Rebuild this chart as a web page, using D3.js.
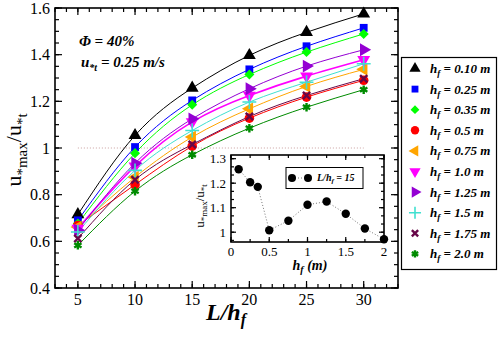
<!DOCTYPE html>
<html>
<head>
<meta charset="utf-8">
<script src="https://cdn.jsdelivr.net/npm/d3@7"></script>
<style>
    body { margin: 0; background: #fff; }
    svg { display: block; font-family: "Liberation Serif", "DejaVu Serif", serif; }
</style>
</head>
<body>
<svg id="drawing_region"></svg>
<script>
// L/h_f values on the x axis
const ratios = [5, 10, 15, 20, 25, 30];
// canopy heights h_f (m)
const heights = [0.10, 0.25, 0.35, 0.5, 0.75, 1.0, 1.25, 1.5, 1.75, 2.0];
const heightLabels = ["0.10", "0.25", "0.35", "0.5", "0.75", "1.0", "1.25", "1.5", "1.75", "2.0"];

// u*max / u*t for each h_f
const s010 = [0.715, 1.054, 1.257, 1.397, 1.496, 1.575];
const s025 = [0.690, 1.004, 1.204, 1.337, 1.436, 1.515];
const s035 = [0.676, 0.978, 1.185, 1.315, 1.411, 1.489];
const s050 = [0.668, 0.843, 1.008, 1.128, 1.218, 1.290];
const s075 = [0.661, 0.875, 1.047, 1.168, 1.264, 1.337];
const s100 = [0.655, 0.922, 1.112, 1.225, 1.308, 1.378];
const s125 = [0.648, 0.935, 1.125, 1.254, 1.351, 1.421];
const s150 = [0.640, 0.904, 1.075, 1.197, 1.282, 1.361];
const s175 = [0.612, 0.864, 1.015, 1.135, 1.225, 1.297];
const s200 = [0.583, 0.815, 0.971, 1.085, 1.175, 1.250];

const allSeries = [s010, s025, s035, s050, s075, s100, s125, s150, s175, s200];

// inset: values at L/h_f = 15
const insetRatio = 15;

const xTicks = [5, 10, 15, 20, 25, 30];
const yTicks = [0.4, 0.6, 0.8, 1, 1.2, 1.4, 1.6];
const insetXTicks = [0, 0.5, 1, 1.5, 2];
const insetYTicks = [1, 1.1, 1.2, 1.3];

const colors = ["#000000", "#0000ff", "#00ff00", "#ff0000", "#ffa500",
                "#ff00ff", "#9400d3", "#40e0d0", "#670748", "#008b00"];
const shapes = ["up", "square", "diamond", "circle", "left", "down", "right", "plus", "times", "star"];

const W = 498, H = 339;
const svg = d3.select("#drawing_region").attr("width", W).attr("height", H);

const frame = {left: 55, right: 398, top: 8, bottom: 288};
const x = d3.scaleLinear().domain([3, 33]).range([frame.left, frame.right]);
const y = d3.scaleLinear().domain([0.4, 1.6]).range([frame.bottom, frame.top]);

function marker(g, shape, color, size) {
    let path;
    let rot = 0;
    let filled = true;
    if (shape == "up" || shape == "left" || shape == "down" || shape == "right") {
        path = d3.symbol(d3.symbolTriangle, size)();
        rot = {up: 0, left: -90, down: 180, right: 90}[shape];
    } else if (shape == "square") {
        path = d3.symbol(d3.symbolSquare, size * 0.85)();
    } else if (shape == "diamond") {
        path = d3.symbol(d3.symbolSquare, size * 0.7)();
        rot = 45;
    } else if (shape == "circle") {
        path = d3.symbol(d3.symbolCircle, size)();
    } else if (shape == "plus") {
        path = d3.symbol(d3.symbolPlus, size * 0.9)();
        filled = false;
    } else if (shape == "times") {
        path = d3.symbol(d3.symbolTimes, size * 0.5)();
        filled = false;
    } else {
        path = d3.symbol(d3.symbolAsterisk, size * 0.7)();
        filled = false;
    }
    const p = g.append("path")
        .attr("d", path)
        .attr("transform", `rotate(${rot})`);
    if (filled) {
        p.attr("fill", color);
    } else {
        p.attr("fill", "none")
            .attr("stroke", color)
            .attr("stroke-width", shape == "plus" ? 1.6 : 2.4);
    }
}

// mirrored, inward tick marks for a box
function boxAxes(g, sx, sy, xMajor, xMinor, yMajor, yMinor, xFmt, yFmt, fontSize, majLen, minLen) {
    const [x0, x1] = sx.range();
    const [y0, y1] = sy.range();
    const tick = (x1a, y1a, x2a, y2a) => g.append("line")
        .attr("x1", x1a).attr("y1", y1a).attr("x2", x2a).attr("y2", y2a)
        .attr("stroke", "#000").attr("stroke-width", 1.2);

    xMinor.forEach(v => {
        tick(sx(v), y0, sx(v), y0 - minLen);
        tick(sx(v), y1, sx(v), y1 + minLen);
    });
    xMajor.forEach(v => {
        tick(sx(v), y0, sx(v), y0 - majLen);
        tick(sx(v), y1, sx(v), y1 + majLen);
        g.append("text")
            .attr("x", sx(v))
            .attr("y", y0 + fontSize + 1)
            .attr("text-anchor", "middle")
            .attr("font-size", fontSize)
            .text(xFmt(v));
    });
    yMinor.forEach(v => {
        tick(x0, sy(v), x0 + minLen, sy(v));
        tick(x1, sy(v), x1 - minLen, sy(v));
    });
    yMajor.forEach(v => {
        tick(x0, sy(v), x0 + majLen, sy(v));
        tick(x1, sy(v), x1 - majLen, sy(v));
        g.append("text")
            .attr("x", x0 - 5)
            .attr("y", sy(v))
            .attr("dy", "0.35em")
            .attr("text-anchor", "end")
            .attr("font-size", fontSize)
            .text(yFmt(v));
    });
    g.append("rect")
        .attr("x", x0).attr("y", y1)
        .attr("width", x1 - x0).attr("height", y0 - y1)
        .attr("fill", "none")
        .attr("stroke", "#000")
        .attr("stroke-width", 1.6);
}

// ---- main plot ----
const main = svg.append("g");

main.append("line")
    .attr("x1", x(5)).attr("x2", x(30))
    .attr("y1", y(1)).attr("y2", y(1))
    .attr("stroke", "#c9a0a0")
    .attr("stroke-width", 1)
    .attr("stroke-dasharray", "1,2");

const line = d3.line()
    .x(d => x(d[0]))
    .y(d => y(d[1]))
    .curve(d3.curveNatural);

allSeries.forEach((s, i) => {
    main.append("path")
        .attr("d", line(ratios.map((r, j) => [r, s[j]])))
        .attr("fill", "none")
        .attr("stroke", colors[i])
        .attr("stroke-width", i == 5 ? 1.6 : 1);
});

allSeries.forEach((s, i) => {
    ratios.forEach((r, j) => {
        const g = main.append("g").attr("transform", `translate(${x(r)},${y(s[j])})`);
        marker(g, shapes[i], colors[i], 72);
    });
});

const fmt = d => d3.format("~g")(d);
boxAxes(main, x, y, xTicks, d3.range(3, 34, 1), yTicks, d3.range(0.4, 1.6001, 0.05),
        fmt, fmt, 16, 7, 4);

// axis titles
main.append("text")
    .attr("x", 226)
    .attr("y", 320)
    .attr("text-anchor", "middle")
    .attr("font-size", 24)
    .attr("font-weight", "bold")
    .attr("font-style", "italic")
    .call(t => {
        t.append("tspan").text("L/h");
        t.append("tspan").attr("font-size", 16).attr("dy", 5).text("f");
    });

function ratioLabel(g, big, small) {
    g.append("tspan").text("u");
    g.append("tspan").attr("font-size", small).attr("dy", big * 0.25).text("*max");
    g.append("tspan").attr("font-size", big).attr("dy", -big * 0.25).text("/u");
    g.append("tspan").attr("font-size", small).attr("dy", big * 0.25).text("*t");
}

main.append("text")
    .attr("transform", `translate(21,150) rotate(-90)`)
    .attr("text-anchor", "middle")
    .attr("font-size", 22)
    .call(t => ratioLabel(t, 22, 15));

// annotation
const note = main.append("g")
    .attr("font-size", 15)
    .attr("font-weight", "bold")
    .attr("font-style", "italic");
note.append("text").attr("x", 79).attr("y", 46).text("\u03A6 = 40%");
note.append("text").attr("x", 81).attr("y", 67)
    .call(t => {
        t.append("tspan").text("u");
        t.append("tspan").attr("font-size", 10).attr("dy", 4).text("*t");
        t.append("tspan").attr("dy", -4).text(" = 0.25 m/s");
    });

// ---- legend ----
const legend = svg.append("g");
legend.append("rect")
    .attr("x", 401.5).attr("y", 57.5)
    .attr("width", 95).attr("height", 212)
    .attr("fill", "#fff")
    .attr("stroke", "#000")
    .attr("stroke-width", 1.2);

heights.forEach((h, i) => {
    const ly = 68.5 + i * 20.6;
    const g = legend.append("g").attr("transform", `translate(415,${ly})`);
    marker(g, shapes[i], colors[i], 55);
    legend.append("text")
        .attr("x", 430)
        .attr("y", ly + 4.5)
        .attr("font-size", 13)
        .attr("font-weight", "bold")
        .attr("font-style", "italic")
        .call(t => {
            t.append("tspan").text("h");
            t.append("tspan").attr("font-size", 9).attr("dy", 3).text("f");
            t.append("tspan").attr("dy", -3).text(` = ${heightLabels[i]} m`);
        });
});

// ---- inset ----
const ix = d3.scaleLinear().domain([0, 2]).range([231, 384]);
const iy = d3.scaleLinear().domain([0.96, 1.315]).range([242, 155]);
const inset = svg.append("g");
const col = ratios.indexOf(insetRatio);
const insetData = heights.map((h, i) => [h, allSeries[i][col]]);

inset.append("rect")
    .attr("x", 231).attr("y", 155)
    .attr("width", 153).attr("height", 87)
    .attr("fill", "#fff");

inset.append("path")
    .attr("d", d3.line().x(d => ix(d[0])).y(d => iy(d[1]))(insetData))
    .attr("fill", "none")
    .attr("stroke", "#777")
    .attr("stroke-width", 1)
    .attr("stroke-dasharray", "1,2");

inset.selectAll("circle.pt")
    .data(insetData)
    .join("circle")
    .attr("class", "pt")
    .attr("cx", d => ix(d[0]))
    .attr("cy", d => iy(d[1]))
    .attr("r", 4.2)
    .attr("fill", "#000");

boxAxes(inset, ix, iy, insetXTicks, d3.range(0, 2.001, 0.25),
        insetYTicks, d3.range(0, 11).map(k => 1 - 0.1 / 3 + k * 0.1 / 3),
        fmt, fmt, 13, 5, 3);

// inset legend
inset.append("rect")
    .attr("x", 286).attr("y", 167.5)
    .attr("width", 77).attr("height", 21)
    .attr("fill", "#fff")
    .attr("stroke", "#000")
    .attr("stroke-width", 1);
inset.append("line")
    .attr("x1", 292).attr("x2", 308)
    .attr("y1", 178).attr("y2", 178)
    .attr("stroke", "#777")
    .attr("stroke-dasharray", "1,2");
[292, 308].forEach(cx => inset.append("circle")
    .attr("cx", cx).attr("cy", 178).attr("r", 4).attr("fill", "#000"));
inset.append("text")
    .attr("x", 317)
    .attr("y", 181)
    .attr("font-size", 10)
    .attr("font-weight", "bold")
    .attr("font-style", "italic")
    .call(t => {
        t.append("tspan").text("L/h");
        t.append("tspan").attr("font-size", 7).attr("dy", 2).text("f");
        t.append("tspan").attr("dy", -2).text(" = 15");
    });

inset.append("text")
    .attr("x", 310)
    .attr("y", 270)
    .attr("text-anchor", "middle")
    .attr("font-size", 14)
    .attr("font-weight", "bold")
    .attr("font-style", "italic")
    .call(t => {
        t.append("tspan").text("h");
        t.append("tspan").attr("font-size", 10).attr("dy", 3).text("f");
        t.append("tspan").attr("dy", -3).text(" (m)");
    });

inset.append("text")
    .attr("transform", `translate(204,206) rotate(-90)`)
    .attr("text-anchor", "middle")
    .attr("font-size", 13)
    .call(t => ratioLabel(t, 13, 9));
</script>
</body>
</html>
